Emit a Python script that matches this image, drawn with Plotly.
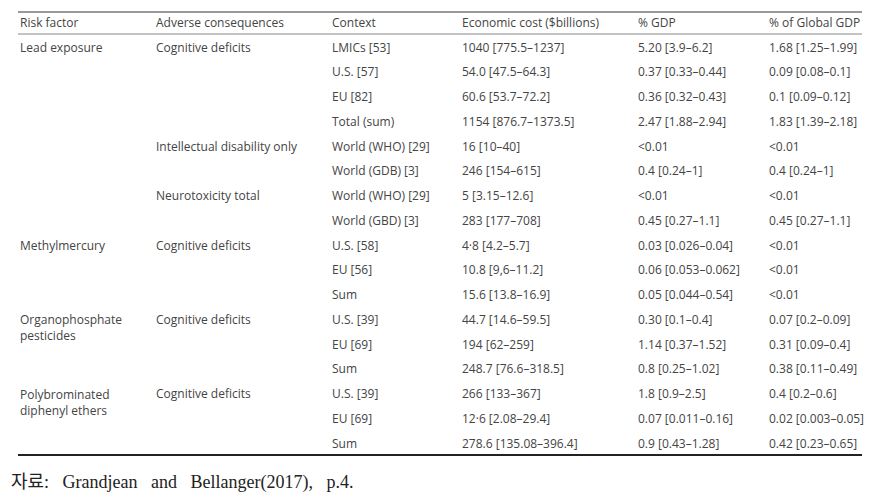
import plotly.graph_objects as go

headers = ["Risk factor", "Adverse consequences", "Context",
           "Economic cost ($billions)", "% GDP", "% of Global GDP"]

risk_factor = ["Lead exposure", "", "", "", "", "", "", "",
               "Methylmercury", "", "",
               "Organophosphate<br>pesticides", "", "",
               "Polybrominated<br>diphenyl ethers", "", ""]

adverse = ["Cognitive deficits", "", "", "",
           "Intellectual disability only", "",
           "Neurotoxicity total", "",
           "Cognitive deficits", "", "",
           "Cognitive deficits", "", "",
           "Cognitive deficits", "", ""]

context = ["LMICs [53]", "U.S. [57]", "EU [82]", "Total (sum)",
           "World (WHO) [29]", "World (GDB) [3]",
           "World (WHO) [29]", "World (GBD) [3]",
           "U.S. [58]", "EU [56]", "Sum",
           "U.S. [39]", "EU [69]", "Sum",
           "U.S. [39]", "EU [69]", "Sum"]

econ_cost = ["1040 [775.5–1237]", "54.0 [47.5–64.3]", "60.6 [53.7–72.2]",
             "1154 [876.7–1373.5]", "16 [10–40]", "246 [154–615]",
             "5 [3.15–12.6]", "283 [177–708]",
             "4·8 [4.2–5.7]", "10.8 [9,6–11.2]", "15.6 [13.8–16.9]",
             "44.7 [14.6–59.5]", "194 [62–259]", "248.7 [76.6–318.5]",
             "266 [133–367]", "12·6 [2.08–29.4]", "278.6 [135.08–396.4]"]

pct_gdp = ["5.20 [3.9–6.2]", "0.37 [0.33–0.44]", "0.36 [0.32–0.43]",
           "2.47 [1.88–2.94]", "<0.01", "0.4 [0.24–1]",
           "<0.01", "0.45 [0.27–1.1]",
           "0.03 [0.026–0.04]", "0.06 [0.053–0.062]", "0.05 [0.044–0.54]",
           "0.30 [0.1–0.4]", "1.14 [0.37–1.52]", "0.8 [0.25–1.02]",
           "1.8 [0.9–2.5]", "0.07 [0.011–0.16]", "0.9 [0.43–1.28]"]

pct_global = ["1.68 [1.25–1.99]", "0.09 [0.08–0.1]", "0.1 [0.09–0.12]",
              "1.83 [1.39–2.18]", "<0.01", "0.4 [0.24–1]",
              "<0.01", "0.45 [0.27–1.1]",
              "<0.01", "<0.01", "<0.01",
              "0.07 [0.2–0.09]", "0.31 [0.09–0.4]", "0.38 [0.11–0.49]",
              "0.4 [0.2–0.6]", "0.02 [0.003–0.05]", "0.42 [0.23–0.65]"]

source_words = ["자료:", "Grandjean", "and", "Bellanger(2017),", "p.4."]

columns = [risk_factor, adverse, context, econ_cost, pct_gdp, pct_global]

# layout constants: x in page pixels, y in row units
col_left = [18, 154, 330, 460, 636, 767]
PAGE_W, PAGE_H = 876, 501
OFFSET = 8                      # browser default body margin
W, H = PAGE_W - 2 * OFFSET, PAGE_H - 2 * OFFSET
row_px = 24.75
first_row_px = 47


def px_to_row(p):
    return (p - first_row_px) / row_px


y_top = px_to_row(OFFSET)
y_bottom = y_top + H / row_px

TEXT_COLOR = "#444444"
FONT = "Open Sans, Noto Sans, sans-serif"
FS = 12

fig = go.Figure()
fig.add_trace(go.Scatter(x=[OFFSET, OFFSET + W], y=[0, 0], mode="markers",
                         marker=dict(opacity=0), hoverinfo="skip", showlegend=False))

annotations = []
for ci, h in enumerate(headers):
    annotations.append(dict(x=col_left[ci], y=-1, xref="x", yref="y", text=h,
                            showarrow=False, xanchor="left", yanchor="middle",
                            align="left",
                            font=dict(family=FONT, size=FS, color=TEXT_COLOR)))

for ci, col in enumerate(columns):
    for ri, val in enumerate(col):
        if not val:
            continue
        multi = "<br>" in val
        annotations.append(dict(
            x=col_left[ci], y=ri, xref="x", yref="y", text=val,
            showarrow=False, xanchor="left",
            yanchor="top" if multi else "middle",
            yshift=10 if multi else 0,
            align="left",
            font=dict(family=FONT, size=FS, color=TEXT_COLOR)))

annotations.append(dict(x=9, y=px_to_row(482), xref="x", yref="y",
                        text="\u2002 ".join(source_words), showarrow=False,
                        xanchor="left", yanchor="middle", align="left",
                        font=dict(family="Liberation Serif, Noto Sans CJK KR, serif",
                                  size=18, color="#222222")))

shapes = [
    dict(type="line", xref="x", yref="y", x0=18, x1=862,
         y0=px_to_row(12), y1=px_to_row(12),
         line=dict(color="#777777", width=1.5)),
    dict(type="line", xref="x", yref="y", x0=18, x1=862,
         y0=px_to_row(34), y1=px_to_row(34),
         line=dict(color="#888888", width=1)),
    dict(type="line", xref="x", yref="y", x0=18, x1=862,
         y0=px_to_row(455), y1=px_to_row(455),
         line=dict(color="#222222", width=2)),
]

fig.update_layout(
    width=W, height=H,
    margin=dict(l=0, r=0, t=0, b=0),
    paper_bgcolor="white", plot_bgcolor="white",
    xaxis=dict(range=[OFFSET, OFFSET + W], visible=False, fixedrange=True),
    yaxis=dict(range=[y_bottom, y_top], visible=False, fixedrange=True),
    annotations=annotations,
    shapes=shapes,
    showlegend=False,
)

fig.write_html("out.html")
